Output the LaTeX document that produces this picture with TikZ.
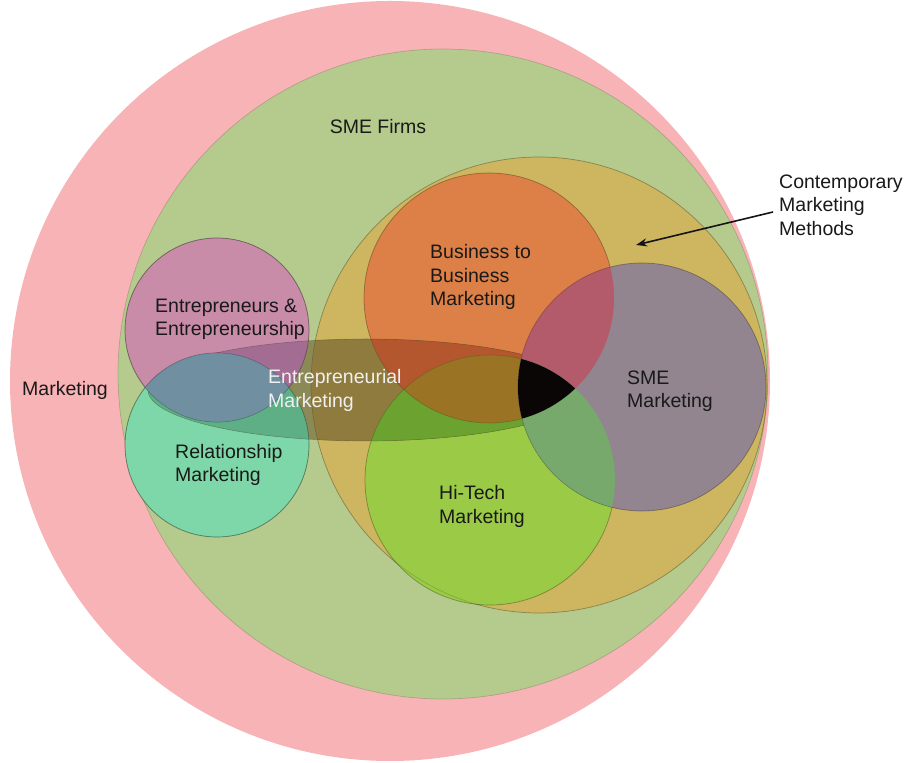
\documentclass[tikz,border=0pt]{standalone}
\usepackage{fontspec}
\setmainfont{Liberation Sans}
\usetikzlibrary{arrows.meta}

% fills of the single sets
\definecolor{mktfill}{HTML}{F8B3B6}
\definecolor{smefirmfill}{HTML}{B5CB8D}
\definecolor{cmmfill}{HTML}{CEB55F}
\definecolor{btobfill}{HTML}{DC8047}
\definecolor{hitechfill}{HTML}{9BCB46}
\definecolor{smemktfill}{HTML}{928590}
\definecolor{entrefill}{HTML}{C88CA8}
\definecolor{relfill}{HTML}{7ED7A8}
% fills of the overlaps
\definecolor{emkbase}{HTML}{8B8955}
\definecolor{emkcmm}{HTML}{8F7B3D}
\definecolor{emkentre}{HTML}{A36C93}
\definecolor{emkrel}{HTML}{5EAE86}
\definecolor{emkbtob}{HTML}{B4572F}
\definecolor{emkhitech}{HTML}{6CA22F}
\definecolor{emkbtobhitech}{HTML}{9A7424}
\definecolor{btobsme}{HTML}{B35A6B}
\definecolor{hitechsme}{HTML}{76A96B}
\definecolor{core}{HTML}{0A0605}
\definecolor{entrerel}{HTML}{7090A2}

\tikzset{
  mktc/.style={insert path={(390,381) circle [radius=380]}},
  smefirmc/.style={insert path={(443,388) circle [radius=325]}},
  cmmc/.style={insert path={(539,377) circle [radius=228]}},
  btobc/.style={insert path={(489,464) circle [radius=125]}},
  smemktc/.style={insert path={(642,375) circle [radius=124]}},
  hitechc/.style={insert path={(490,282) circle [radius=125]}},
  entrec/.style={insert path={(217,432) circle [radius=92]}},
  relc/.style={insert path={(217,317) circle [radius=92]}},
  emkc/.style={insert path={(366,372) ellipse [x radius=218, y radius=51]}},
  rim/.style={draw=black, draw opacity=0.16, line width=0.7pt},
  lbl/.style={align=left, anchor=west, inner sep=0pt,
    font=\fontsize{19.5}{23.5}\selectfont, text=black!90},
  pointer/.style={-{Stealth[length=11pt,width=8pt]}, line width=1.6pt, draw=black!92}
}

\begin{document}
\begin{tikzpicture}[x=1pt,y=1pt]
\useasboundingbox (0,0) rectangle (909,762);

% nested sets
\path[mktc, fill=mktfill];
\path[smefirmc, fill=smefirmfill, rim];
\path[cmmc, fill=cmmfill, rim];
\path[entrec, fill=entrefill, rim];
\path[relc, fill=relfill, rim];
\path[btobc, fill=btobfill, rim];
\path[hitechc, fill=hitechfill, rim];

% entrepreneurial marketing band
\begin{scope}
  \clip[emkc];
  \path[emkc, fill=emkbase];
  \path[cmmc, fill=emkcmm];
  \path[entrec, fill=emkentre];
  \path[relc, fill=emkrel];
  \path[btobc, fill=emkbtob];
  \path[hitechc, fill=emkhitech];
  \begin{scope}
    \clip[btobc];
    \path[hitechc, fill=emkbtobhitech];
  \end{scope}
\end{scope}
\path[emkc, rim];
\path[cmmc, rim];
\path[btobc, rim];
\path[hitechc, rim];
\path[entrec, rim];
\path[relc, rim];

% SME marketing and its overlaps
\path[smemktc, fill=smemktfill, rim];
\begin{scope}
  \clip[smemktc];
  \path[btobc, fill=btobsme];
  \path[hitechc, fill=hitechsme];
  \begin{scope}
    \clip[btobc];
    \path[hitechc, fill=core];
  \end{scope}
\end{scope}
\path[smemktc, rim];

% entrepreneurs / relationship overlap
\begin{scope}
  \clip[entrec];
  \path[relc, fill=entrerel];
\end{scope}
\path[entrec, rim];
\path[relc, rim];

% labels
\node[lbl, anchor=center] (smefirms) at (378,635) {SME Firms};
\node[lbl] (mkt) at (22,372) {Marketing};
\node[lbl] (cmm) at (779,557) {Contemporary\\Marketing\\Methods};
\node[lbl] (btob) at (430,485) {Business to\\Business\\Marketing};
\node[lbl] (entre) at (155,442.5) {Entrepreneurs \&\\Entrepreneurship};
\node[lbl, text=white!94!black] (emk) at (268,371.5) {Entrepreneurial\\Marketing};
\node[lbl] (smemkt) at (627,371) {SME\\Marketing};
\node[lbl] (rel) at (175,297) {Relationship\\Marketing};
\node[lbl] (hitech) at (439,255.5) {Hi-Tech\\Marketing};

% pointer to the contemporary methods circle
\coordinate (cmmtip) at (636,517);
\draw[pointer] ([xshift=-6pt,yshift=-7pt]cmm.west) -- (cmmtip);
\end{tikzpicture}
\end{document}
